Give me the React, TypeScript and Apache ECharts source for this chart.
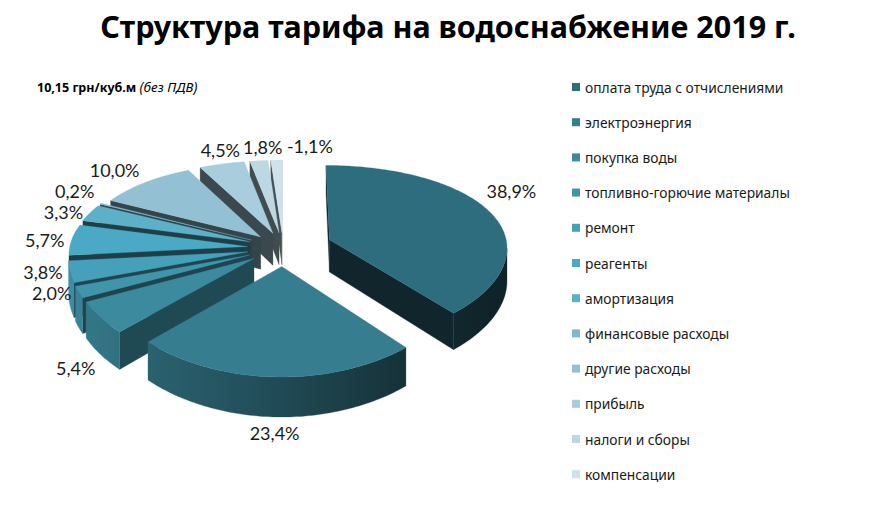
import * as echarts from 'echarts'
import { useEffect, useRef } from 'react'

const categories = [
  'оплата труда с отчислениями',
  'электроэнергия',
  'покупка воды',
  'топливно-горючие материалы',
  'ремонт',
  'реагенты',
  'амортизация',
  'финансовые расходы',
  'другие расходы',
  'прибыль',
  'налоги и сборы',
  'компенсации'
]
const shares = [38.9, 23.4, 5.4, 2.0, 3.8, 5.7, 3.3, 0.2, 10.0, 4.5, 1.8, -1.1]
const colors = [
  '#2e6d7d', '#367d8f', '#3b8a9d', '#4195ab', '#46a0b9', '#4aa9c4',
  '#5cb1c9', '#7bbacf', '#93c1d3', '#a8cddc', '#bbd8e3', '#cde2ea'
]
// how far each slice is pulled out (share of radius)
const explode = [0.28, 0.205, 0.2, 0.2, 0.2, 0.2, 0.2, 0.2, 0.18, 0.18, 0.18, 0.18]

// fake 3d camera
const CX = 283, CY = 248, RX = 178, RY = 87.7, DEPTH = 32.8, KX = 0.08, KY = 0.15

const project = (X: number, Z: number, h: number): number[] => {
  const px = 1 / (1 + KX * Z)
  const py = 1 / (1 + KY * Z)
  return [CX + X * RX * px, CY + (-Z * RY + h * DEPTH) * py]
}

const area = (pts: number[][]) => {
  let a = 0
  for (let i = 0; i < pts.length; i++) {
    const [x1, y1] = pts[i]
    const [x2, y2] = pts[(i + 1) % pts.length]
    a += x1 * y2 - x2 * y1
  }
  return a / 2
}

const shade = (hex: string, f: number) => {
  const n = parseInt(hex.slice(1), 16)
  const r = Math.round(((n >> 16) & 255) * f)
  const g = Math.round(((n >> 8) & 255) * f)
  const b = Math.round((n & 255) * f)
  return `rgb(${r},${g},${b})`
}

const fmt = (v: number) => v.toFixed(1).replace('.', ',') + '%'

export default function App() {
  const chartRef = useRef<HTMLDivElement>(null)

  useEffect(() => {
    if (!chartRef.current) return
    document.body.style.margin = '0'
    const chart = echarts.init(chartRef.current, null, { renderer: 'svg' })

    // slice angles, clockwise from the back
    const total = shares.reduce((s, v) => s + Math.abs(v), 0)
    let acc = 0
    const geo = shares.map((v, i) => {
      const a0 = (acc / total) * Math.PI * 2
      acc += Math.abs(v)
      const a1 = (acc / total) * Math.PI * 2
      const mid = (a0 + a1) / 2
      return { a0, a1, mid, ox: explode[i] * Math.sin(mid), oz: explode[i] * Math.cos(mid) }
    })

    // back slices first
    const order = geo
      .map((g, i) => ({ i, z: g.oz + 0.5 * Math.cos(g.mid) }))
      .sort((a, b) => b.z - a.z)
    const rank: number[] = []
    order.forEach((o, k) => { rank[o.i] = k })

    // label anchors
    const labels = geo.map((g, i) => {
      const text = fmt(shares[i])
      const r = 1 + explode[i] + 0.03
      const X = r * Math.sin(g.mid), Z = r * Math.cos(g.mid)
      const c = Math.cos(g.mid), s = Math.sin(g.mid)
      const w = text.length * 9.6
      const side = s < -0.3 ? 'right' : s > 0.3 ? 'left' : 'center'
      if (c < -0.5) {
        const [x, y] = project(X, Z, 1)
        return { text, x, y: y + 12, align: side, va: 'middle', w, grp: 'front' }
      }
      if (c > 0.75) {
        const [x, y] = project(X, Z, 0)
        return { text, x, y: y - 12, align: 'center', va: 'middle', w, grp: 'top' }
      }
      const [x, y] = project(X, Z, 0)
      return s > 0
        ? { text, x: x - 8, y: y - 20, align: 'left', va: 'middle', w, grp: 'right' }
        : { text, x: x - 2, y, align: 'right', va: 'middle', w, grp: 'left' }
    })
    // keep the top labels apart
    const topIdx = labels.map((l, i) => i).filter(i => labels[i].grp === 'top').sort((a, b) => labels[a].x - labels[b].x)
    for (let k = 1; k < topIdx.length; k++) {
      const p = labels[topIdx[k - 1]], q = labels[topIdx[k]]
      const minX = p.x + p.w / 2 + q.w / 2 + 4
      if (q.x < minX) q.x = minX
    }
    // and the left ones, pushing upwards
    const leftIdx = labels.map((l, i) => i).filter(i => labels[i].grp === 'left').sort((a, b) => labels[b].y - labels[a].y)
    for (let k = 1; k < leftIdx.length; k++) {
      const p = labels[leftIdx[k - 1]], q = labels[leftIdx[k]]
      if (q.y > p.y - 21) q.y = p.y - 21
    }

    const wallFill = (c: string) =>
      new echarts.graphic.LinearGradient(60, 0, 520, 0, [
        { offset: 0, color: shade(c, 0.9) },
        { offset: 0.4, color: shade(c, 0.65) },
        { offset: 0.75, color: shade(c, 0.4) },
        { offset: 1, color: shade(c, 0.3) }
      ], true)

    const renderItem = (params: any) => {
      const i = params.dataIndex
      const g = geo[i]
      const base = rank[i] * 10
      const pt = (a: number, h: number) => project(g.ox + Math.sin(a), g.oz + Math.cos(a), h)
      const apexT = project(g.ox, g.oz, 0)
      const apexB = project(g.ox, g.oz, 1)
      const n = Math.max(2, Math.ceil((g.a1 - g.a0) / (Math.PI / 180)))
      const angs = Array.from({ length: n + 1 }, (_, j) => g.a0 + ((g.a1 - g.a0) * j) / n)
      const top = angs.map(a => pt(a, 0))
      const bot = angs.map(a => pt(a, 1))
      const children: any[] = []
      const poly = (points: number[][], fill: any, z2: number) =>
        children.push({ type: 'polygon', shape: { points }, style: { fill, stroke: fill, lineWidth: 0.3 }, z2 })

      const sw = [apexT, apexB, bot[0], top[0]]
      if (area(sw) > 0) poly(sw, shade(colors[i], 0.35 + 0.25 * Math.max(0, Math.sin(g.a0 - Math.PI / 2))), base + 1)
      const ew = [apexT, top[n], bot[n], apexB]
      if (area(ew) > 0) poly(ew, shade(colors[i], 0.35 + 0.25 * Math.max(0, Math.sin(g.a1 + Math.PI / 2))), base + 1)

      let run: number[] = []
      const flush = () => {
        if (run.length) {
          const idx = [run[0], ...run.map(j => j + 1)]
          const pts = idx.map(j => top[j]).concat(idx.slice().reverse().map(j => bot[j]))
          poly(pts, wallFill(colors[i]), base + 2)
        }
        run = []
      }
      for (let j = 0; j < n; j++) {
        if (area([top[j + 1], top[j], bot[j], bot[j + 1]]) > 0) run.push(j)
        else flush()
      }
      flush()

      poly([apexT, ...top], colors[i], base + 3)

      const l = labels[i]
      children.push({
        type: 'text',
        x: l.x,
        y: l.y,
        z2: 1000,
        style: {
          text: l.text,
          fill: '#1a1a1a',
          font: '18px Lato',
          align: l.align,
          verticalAlign: l.va
        }
      })
      return { type: 'group', children }
    }

    const option = {
      animation: false,
      title: {
        text: 'Структура тарифа на водоснабжение 2019 г.',
        left: 'center',
        top: 5,
        textStyle: { fontFamily: 'Noto Sans', fontSize: 30.5, fontWeight: 'bold', color: '#000' }
      },
      legend: {
        orient: 'vertical',
        left: 567,
        top: 75,
        itemWidth: 8,
        itemHeight: 8,
        itemGap: 21.2,
        icon: 'rect',
        textStyle: { fontFamily: 'Noto Sans', fontSize: 13.8, color: '#1a1a1a', lineHeight: 14 },
        data: categories
      },
      graphic: [
        {
          type: 'text',
          left: 37,
          top: 80,
          style: {
            text: '{b|10,15 грн/куб.м} {i|(без ПДВ)}',
            rich: {
              b: { fontFamily: 'Noto Sans', fontSize: 12.5, fontWeight: 'bold', fill: '#000' },
              i: { fontFamily: 'Noto Sans', fontSize: 13.5, fontStyle: 'italic', fill: '#000' }
            }
          }
        }
      ],
      series: [
        {
          type: 'custom',
          coordinateSystem: 'none',
          silent: true,
          data: shares.map(v => Math.abs(v)),
          renderItem
        },
        {
          // only feeds the legend
          type: 'pie',
          radius: 0,
          center: [-50, -50],
          silent: true,
          label: { show: false },
          labelLine: { show: false },
          data: categories.map((name, i) => ({
            name,
            value: Math.abs(shares[i]),
            itemStyle: { color: colors[i] }
          }))
        }
      ]
    }

    chart.setOption(option)
    return () => chart.dispose()
  }, [])

  return <div ref={chartRef} style={{ width: '896px', height: '509px' }} />
}
